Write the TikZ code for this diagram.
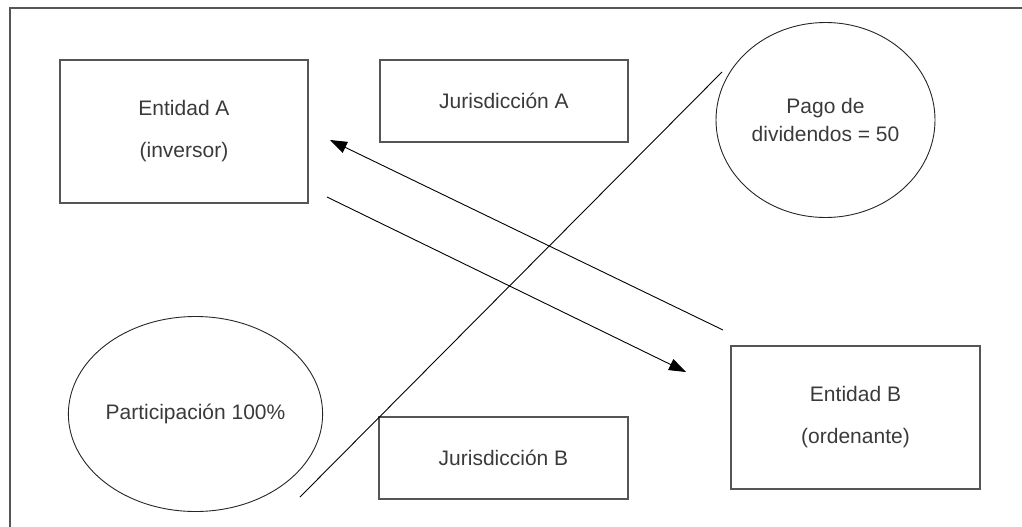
\documentclass[tikz,border=0pt]{standalone}
\usepackage{fontspec}
\setmainfont{Liberation Sans}
\usetikzlibrary{shapes.geometric,arrows.meta}
\definecolor{txt}{HTML}{3A3A3A}
\definecolor{frm}{HTML}{555555}
\tikzset{
  lbl/.style={font=\fontsize{21}{25}\selectfont, text=txt, align=center},
  boxnode/.style={lbl, draw=frm, line width=1.1pt, rectangle, inner sep=0pt},
  ovalnode/.style={lbl, draw=black!85, line width=0.9pt, ellipse, inner sep=0pt, minimum width=219pt, minimum height=195pt},
  conn/.style={draw=black, line width=0.9pt},
  arr/.style={conn, -{Triangle[length=17pt,width=12pt]}}
}
\begin{document}
\begin{tikzpicture}[x=1pt,y=-1pt]
\useasboundingbox (0,0) rectangle (1022,527);
% frame (top and left only)
\draw[draw=frm, line width=1.2pt] (1022,8) -- (10,8) -- (10,527);

\node[boxnode, minimum width=248pt, minimum height=143pt] (ea) at (184,131.5) {Entidad A\\[17pt](inversor)};
\node[boxnode, minimum width=248pt, minimum height=82pt] (ja) at (504,101) {Jurisdicción A};
\node[boxnode, minimum width=249pt, minimum height=143pt] (eb) at (855.5,417.5) {Entidad B\\[17pt](ordenante)};
\node[boxnode, minimum width=249pt, minimum height=82pt] (jb) at (503.5,458) {Jurisdicción B};
\node[ovalnode] (pago) at (825.5,120) {Pago de\\[3pt]dividendos = 50};
\node[ovalnode] (part) at (195.5,414) {Participación 100\%};

\coordinate (d1) at (300,497);
\coordinate (d2) at (722,72);
\coordinate (a1s) at (723,330);
\coordinate (a1e) at (330,140);
\coordinate (a2s) at (327,197);
\coordinate (a2e) at (686,372);

\draw[conn] (d1) -- (d2);
\draw[arr] (a1s) -- (a1e);
\draw[arr] (a2s) -- (a2e);
\end{tikzpicture}
\end{document}
